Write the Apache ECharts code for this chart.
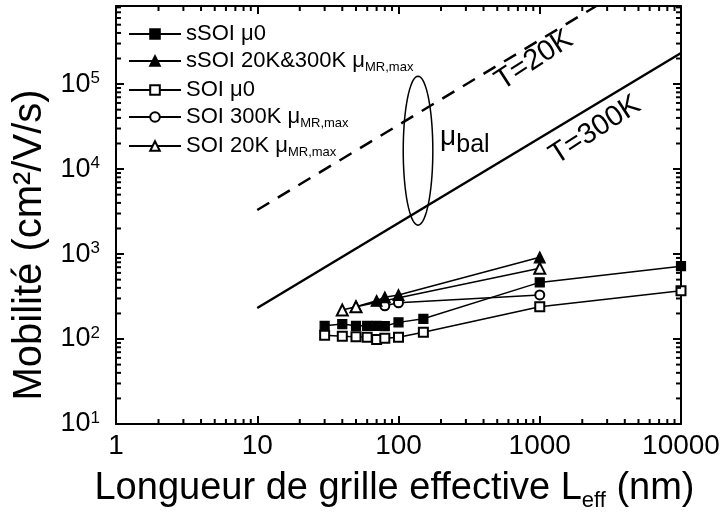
<!DOCTYPE html>
<html><head><meta charset="utf-8">
<script src="https://cdn.jsdelivr.net/npm/echarts@6/dist/echarts.min.js"></script>
<style>html,body{margin:0;padding:0;background:#fff}#c{width:723px;height:521px}</style>
</head><body><div id="c"></div>
<script>
// ---- data ----
const seriesNames = ['sSOI μ0', 'sSOI 20K&300K μMR,max', 'SOI μ0', 'SOI 300K μMR,max', 'SOI 20K μMR,max'];
const sSOI_mu0_x = [30, 40, 50, 60, 70, 80, 100, 150, 1000, 10000];
const sSOI_mu0_y = [143, 150, 143, 143, 143, 142, 157, 173, 464, 720];
const sSOI_mr_x = [50, 70, 80, 100, 1000];
const sSOI_mr_y = [240, 282, 310, 330, 915];
const SOI_mu0_x = [30, 40, 50, 60, 70, 80, 100, 150, 1000, 10000];
const SOI_mu0_y = [111, 108, 106, 105, 99, 102, 105, 120, 240, 370];
const SOI300_x = [80, 100, 1000];
const SOI300_y = [246, 267, 330];
const SOI20_x = [40, 50, 1000];
const SOI20_y = [219, 240, 679];
const bal300_x = [10, 10000];
const bal300_y = [232, 232000];
const bal20_x = [10, 2500];
const bal20_y = [3300, 825000];
const ellipseX = [108, 175];
const ellipseY = [2190, 124000];
const xTickLabels = ['1', '10', '100', '1000', '10000'];
const yTickExponents = ['1', '2', '3', '4', '5'];

const FONT = '"Liberation Sans", Arial, sans-serif';
const X_MIN = 1, X_MAX = 10000, Y_MIN = 10, Y_MAX = 830000;

function zip(xs, ys) { return xs.map((x, i) => [x, ys[i]]); }
function minorVals(lo, hi) {
  const out = [];
  for (let d = lo; d < hi; d *= 10) for (let m = 2; m <= 9; m++) { const v = d * m; if (v < hi) out.push(v); }
  return out;
}
function decadeIndex(v) {
  const e = Math.log10(v);
  return Math.abs(e - Math.round(e)) < 1e-6 ? Math.round(e) : null;
}
const xMinor = minorVals(X_MIN, X_MAX);
const yMinor = minorVals(Y_MIN, Y_MAX);

const legendRich = {
  'sSOI μ0': '{a|sSOI μ0}',
  'sSOI 20K&300K μMR,max': '{a|sSOI 20K&300K μ}{s|MR,max}',
  'SOI μ0': '{a|SOI μ0}',
  'SOI 300K μMR,max': '{a|SOI 300K μ}{s|MR,max}',
  'SOI 20K μMR,max': '{a|SOI 20K μ}{s|MR,max}'
};

const lineBase = {
  type: 'line', xAxisIndex: 0, yAxisIndex: 0,
  lineStyle: { color: '#000', width: 1.5 },
  itemStyle: { color: '#000', borderColor: '#000', borderWidth: 1.2 },
  symbolSize: 9, z: 3
};

function tickLine(x1, y1, x2, y2) {
  return { type: 'line', shape: { x1, y1, x2, y2 }, style: { stroke: '#000', lineWidth: 2 } };
}

const chart = echarts.init(document.getElementById('c'), null, { renderer: 'canvas' });
const axisCommon = {
  type: 'log', logBase: 10,
  axisLine: { show: true, lineStyle: { color: '#000', width: 2 } },
  axisTick: { show: true, inside: true, length: 8, lineStyle: { color: '#000', width: 2 } },
  splitLine: { show: false },
  minorTick: { show: false }
};

chart.setOption({
  animation: false,
  backgroundColor: '#fff',
  grid: { left: 116, right: 42, top: 6, bottom: 97, containLabel: false, outerBoundsMode: 'none' },
  xAxis: [
    Object.assign({}, axisCommon, {
      min: X_MIN, max: X_MAX, position: 'bottom',
      axisLabel: { color: '#000', fontSize: 28, fontFamily: FONT, margin: 8,
        formatter: v => { const i = decadeIndex(v); return i === null ? '' : xTickLabels[i]; } },
      name: '{a|Longueur de grille effective L}{s|eff}{a| (nm)}',
      nameLocation: 'middle', nameGap: 42,
      nameTextStyle: { color: '#000', fontFamily: FONT, fontSize: 38, padding: [0, 8, 0, 0],
        rich: { a: { fontSize: 38, fontFamily: FONT, color: '#000', lineHeight: 46 },
                s: { fontSize: 22, fontFamily: FONT, color: '#000', lineHeight: 46, verticalAlign: 'bottom' } } }
    }),
    Object.assign({}, axisCommon, {
      min: X_MIN, max: X_MAX, position: 'top', axisLabel: { show: false }
    })
  ],
  yAxis: [
    Object.assign({}, axisCommon, {
      min: Y_MIN, max: Y_MAX, position: 'left',
      axisLabel: { color: '#000', fontFamily: FONT, margin: 16,
        formatter: v => { const i = decadeIndex(v); return i === null ? '' : '{b|10}{s|' + yTickExponents[i - 1] + '}'; },
        rich: { b: { fontSize: 27, fontFamily: FONT, color: '#000', lineHeight: 28 },
                s: { fontSize: 17, fontFamily: FONT, color: '#000', verticalAlign: 'top', lineHeight: 28 } } },
      name: 'Mobilité (cm²/V/s)', nameLocation: 'middle', nameGap: 59,
      nameTextStyle: { color: '#000', fontFamily: FONT, fontSize: 40, lineHeight: 40, padding: [0, 60, 0, 0] }
    }),
    Object.assign({}, axisCommon, {
      min: Y_MIN, max: Y_MAX, position: 'right', axisLabel: { show: false }
    })
  ],
  legend: {
    data: seriesNames, orient: 'vertical', left: 123, top: 18,
    itemWidth: 52, itemHeight: 12, itemGap: 5, selectedMode: false,
    textStyle: { color: '#000', fontFamily: FONT, fontSize: 22,
      rich: { a: { fontSize: 22, fontFamily: FONT, color: '#000', lineHeight: 26 },
              s: { fontSize: 13, fontFamily: FONT, color: '#000', lineHeight: 26, verticalAlign: 'bottom' } } },
    formatter: n => legendRich[n]
  },
  series: [
    Object.assign({}, lineBase, { name: seriesNames[0], symbol: 'rect', data: zip(sSOI_mu0_x, sSOI_mu0_y) }),
    Object.assign({}, lineBase, { name: seriesNames[2], symbol: 'emptyRect', data: zip(SOI_mu0_x, SOI_mu0_y) }),
    Object.assign({}, lineBase, { name: seriesNames[3], symbol: 'emptyCircle', data: zip(SOI300_x, SOI300_y) }),
    Object.assign({}, lineBase, { name: seriesNames[1], symbol: 'triangle', symbolSize: 11, data: zip(sSOI_mr_x, sSOI_mr_y) }),
    Object.assign({}, lineBase, { name: seriesNames[4], symbol: 'emptyTriangle', symbolSize: 11, data: zip(SOI20_x, SOI20_y) }),
    { type: 'line', name: 'bal300', data: zip(bal300_x, bal300_y), symbol: 'none',
      lineStyle: { color: '#000', width: 2.5 }, z: 2 },
    { type: 'line', name: 'bal20', data: zip(bal20_x, bal20_y), symbol: 'none',
      lineStyle: { color: '#000', width: 2.5, type: [14, 10] }, z: 2 },
    { type: 'custom', name: 'ellipse', silent: true, z: 2,
      data: [[ellipseX[0], ellipseY[0]]],
      renderItem: function (params, api) {
        const p1 = api.coord([ellipseX[0], ellipseY[0]]);
        const p2 = api.coord([ellipseX[1], ellipseY[1]]);
        const cx = (p1[0] + p2[0]) / 2, cy = (p1[1] + p2[1]) / 2;
        const rx = Math.abs(p2[0] - p1[0]) / 2, ry = Math.abs(p2[1] - p1[1]) / 2;
        const pts = [];
        for (let i = 0; i < 72; i++) { const t = i / 72 * Math.PI * 2; pts.push([cx + rx * Math.cos(t), cy + ry * Math.sin(t)]); }
        return { type: 'polygon', shape: { points: pts }, style: { fill: 'none', stroke: '#000', lineWidth: 1.5 } };
      } },
    { type: 'custom', name: 'annotations', silent: true, z: 4,
      data: [[100, 1000]],
      renderItem: function (params, api) {
        const a20 = api.coord([910, 191000]);
        const a300 = api.coord([2460, 28800]);
        const aMu = api.coord([197, 23500]);
        const rot = 33 * Math.PI / 180;
        return { type: 'group', children: [
          { type: 'text', x: a20[0], y: a20[1], rotation: rot,
            style: { text: 'T=20K', font: '29px ' + FONT, fill: '#000', align: 'center', verticalAlign: 'middle' } },
          { type: 'text', x: a300[0], y: a300[1], rotation: rot,
            style: { text: 'T=300K', font: '29px ' + FONT, fill: '#000', align: 'center', verticalAlign: 'middle' } },
          { type: 'text', x: aMu[0], y: aMu[1],
            style: { text: '{m|μ}{s|bal}', align: 'left', verticalAlign: 'middle',
              rich: { m: { fontSize: 28, fontFamily: FONT, fill: '#000', lineHeight: 40 },
                      s: { fontSize: 25, fontFamily: FONT, fill: '#000', lineHeight: 40, verticalAlign: 'bottom' } } } }
        ] };
      } },
    { type: 'custom', name: 'minorTicks', silent: true, z: 5,
      data: [[X_MIN, Y_MIN]],
      renderItem: function (params, api) {
        const cs = params.coordSys;
        const left = cs.x, right = cs.x + cs.width, top = cs.y, bottom = cs.y + cs.height;
        const ch = [];
        xMinor.forEach(v => { const px = api.coord([v, Y_MIN])[0];
          ch.push(tickLine(px, bottom, px, bottom - 5), tickLine(px, top, px, top + 5)); });
        yMinor.forEach(v => { const py = api.coord([X_MIN, v])[1];
          ch.push(tickLine(left, py, left + 5, py), tickLine(right, py, right - 5, py)); });
        return { type: 'group', children: ch };
      } }
  ]
});
</script>
</body></html>
